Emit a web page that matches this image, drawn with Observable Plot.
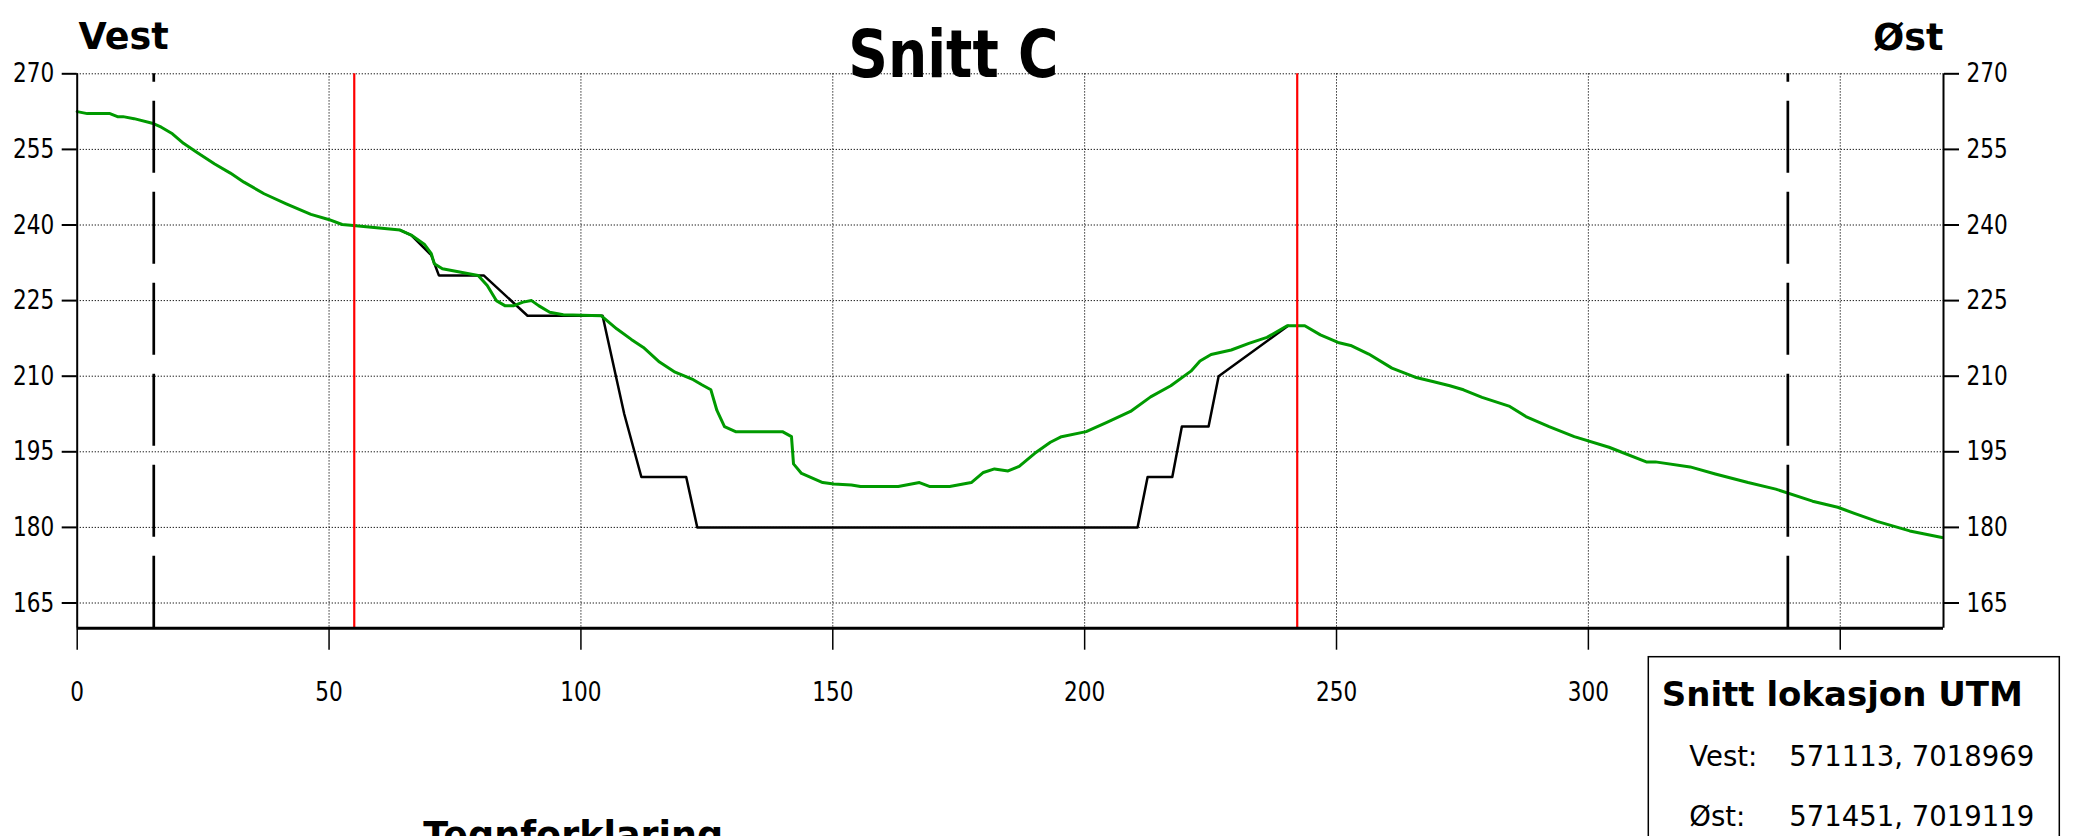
<!DOCTYPE html>
<html><head><meta charset="utf-8">
<script src="https://cdn.jsdelivr.net/npm/d3@7"></script>
<script src="https://cdn.jsdelivr.net/npm/@observablehq/plot@0.6"></script>
<style>
html,body{margin:0;padding:0;background:#fff;}
#chart{width:2075px;height:836px;overflow:hidden;}
</style></head><body><div id="chart"></div>
<script>
// ---- data ----
const terrainX = [0, 2.0, 6.5, 8.0, 9.1, 11.3, 14.9, 16.7, 18.9, 21.1, 23.8, 27.3, 30.4, 33.1, 37.1, 41.5, 46.4, 49.9, 52.6, 54.8,
  64.1, 66.3, 68.9, 70.3, 70.9, 72.5, 79.6, 81.4, 83.2, 84.9, 86.7, 88.5, 90.2, 91.6, 93.8, 96.5, 104.0, 107.1, 110.0, 112.4,
  115.6, 118.7, 122.3, 124.0, 125.8, 127.0, 128.5, 130.7, 140.0, 141.8, 142.2, 143.8, 148.0, 150.2, 153.7, 155.5, 163.0, 167.2,
  169.3, 173.2, 177.5, 179.9, 182.1, 184.8, 187.0, 190.1, 193.2, 195.4, 200.3, 204.3, 209.1, 213.1, 217.1, 221.1, 222.9, 225.1,
  229.1, 232.6, 236.2, 240.2, 243.7, 246.8, 250.3, 252.8, 256.4, 261.0, 265.6, 269.3, 272.5, 275.2, 278.9, 284.4, 287.6, 292.2,
  297.2, 304.1, 311.5, 313.3, 320.2, 325.2, 331.7, 337.2, 344.5, 349.5, 352.8, 357.3, 363.8, 370.2];
const terrainY = [262.5, 262.1, 262.1, 261.5, 261.5, 261.1, 260.2, 259.4, 258.1, 256.2, 254.4, 252.1, 250.3, 248.5, 246.2, 244.2, 242.1, 241.1, 240.1, 239.9,
  239.0, 238.0, 236.2, 234.3, 232.3, 231.3, 230.0, 228.0, 225.0, 224.0, 224.0, 224.7, 225.0, 224.0, 222.7, 222.2, 222.0, 219.4, 217.3, 215.7,
  212.8, 210.8, 209.3, 208.3, 207.3, 203.2, 200.0, 199.0, 199.0, 198.0, 192.6, 190.7, 188.9, 188.6, 188.4, 188.1, 188.1, 188.9,
  188.1, 188.1, 188.9, 190.9, 191.6, 191.2, 192.1, 194.7, 196.9, 198.0, 199.0, 200.8, 203.0, 205.9, 208.1, 211.0, 213.0, 214.3,
  215.2, 216.5, 217.7, 220.0, 220.0, 218.2, 216.7, 216.1, 214.4, 211.6, 209.8, 208.9, 208.1, 207.3, 205.8, 204.0, 202.0, 200.0,
  198.0, 195.9, 193.0, 193.0, 192.0, 190.6, 188.9, 187.6, 185.2, 184.0, 182.8, 181.2, 179.3, 178.0];
const profileX = [64.1, 66.3, 70.3, 71.8, 80.7, 89.4, 104.3, 108.6, 112.0, 120.9, 123.1, 210.5, 212.5, 217.4, 219.3, 224.6, 226.6, 240.4];
const profileY = [239.0, 238.0, 234.0, 230.0, 230.0, 222.0, 222.0, 202.5, 190.0, 190.0, 180.0, 180.0, 190.0, 190.0, 200.0, 200.0, 210.0, 220.0];
const redLinesX = [55.0, 242.2];
const dashedLinesX = [15.2, 339.6];
const xTicks = [0, 50, 100, 150, 200, 250, 300, 350];
const yTicks = [165, 180, 195, 210, 225, 240, 255, 270];
const xDomain = [0, 370.5];
const yDomain = [160, 270];
const titleText = "Snitt C";
const westLabel = "Vest";
const eastLabel = "Øst";
const legendTitle = "Snitt lokasjon UTM";
const legendLabels = ["Vest:", "Øst:"];
const legendValues = ["571113, 7018969", "571451, 7019119"];
const legendHeading = "Tegnforklaring";

const terrain = terrainX.map((x, i) => ({x, y: terrainY[i]}));
const profile = profileX.map((x, i) => ({x, y: profileY[i]}));

const dotted = {stroke: "black", strokeOpacity: 1, strokeWidth: 1, strokeDasharray: "1.2,1.8"};

const chart = Plot.plot({
  width: 2075, height: 836,
  marginLeft: 76.7, marginRight: 132, marginTop: 73.3, marginBottom: 208.3,
  style: {fontFamily: "'DejaVu Sans', sans-serif", fontSize: "27px", color: "black", background: "white"},
  x: {domain: xDomain},
  y: {domain: yDomain},
  marks: [
    Plot.gridX(xTicks.filter(d => d > 0), dotted),
    Plot.gridY(yTicks, dotted),
    Plot.axisY(yTicks, {anchor: "left", tickSize: 15, tickPadding: 8, strokeWidth: 2, fontSize: 27, label: null}),
    Plot.axisY(yTicks, {anchor: "right", tickSize: 15, tickPadding: 8, strokeWidth: 2, fontSize: 27, label: null}),
    Plot.axisX(xTicks, {anchor: "bottom", tickSize: 22, tickPadding: 32, strokeWidth: 1.5, fontSize: 27, label: null}),
    Plot.line(profile, {x: "x", y: "y", stroke: "black", strokeWidth: 2.5}),
    Plot.line(terrain, {x: "x", y: "y", stroke: "#009a00", strokeWidth: 3}),
    Plot.ruleX(dashedLinesX, {y1: yDomain[0], y2: yDomain[1], stroke: "black", strokeWidth: 2.7, strokeDasharray: "72,19"}),
    Plot.ruleX(redLinesX, {stroke: "#ff0000", strokeWidth: 2.2}),
    Plot.ruleX(xDomain, {stroke: "black", strokeWidth: 2}),
    Plot.ruleY([yDomain[0]], {stroke: "black", strokeWidth: 3}),
    Plot.text([titleText], {frameAnchor: "top", dx: -57, dy: 2.7, lineAnchor: "bottom", fontSize: 65, fontWeight: "bold", fill: "black"}),
    Plot.text([westLabel], {frameAnchor: "top-left", textAnchor: "start", dx: 1.3, dy: -25, lineAnchor: "bottom", fontSize: 36.5, fontWeight: "bold", fill: "black"}),
    Plot.text([eastLabel], {frameAnchor: "top-right", textAnchor: "end", dx: 0, dy: -24.3, lineAnchor: "bottom", fontSize: 36.5, fontWeight: "bold", fill: "black"})
  ]
});
document.getElementById("chart").appendChild(chart);

const svg = d3.select(chart);
// condensed tick labels
svg.selectAll('g[aria-label="y-axis tick label"] text, g[aria-label="x-axis tick label"] text').each(function() {
  const w = this.getComputedTextLength();
  this.setAttribute("textLength", w * 0.8);
  this.setAttribute("lengthAdjust", "spacingAndGlyphs");
});
// condensed title
svg.selectAll('g[aria-label="text"] text').filter(function() { return this.textContent === titleText; }).each(function() {
  this.setAttribute("textLength", 210);
  this.setAttribute("lengthAdjust", "spacingAndGlyphs");
});

// location box
const box = svg.append("g").attr("font-family", "'DejaVu Sans', sans-serif").attr("fill", "black").attr("text-anchor", "start");
box.append("rect").attr("x", 1648.3).attr("y", 656.7).attr("width", 411).attr("height", 300)
  .attr("fill", "white").attr("stroke", "black").attr("stroke-width", 1.5);
box.append("text").attr("x", 1661.7).attr("y", 706).attr("font-size", 34).attr("font-weight", "bold").text(legendTitle);
legendLabels.forEach((lab, i) => {
  box.append("text").attr("x", 1689.3).attr("y", 766 + i * 60).attr("font-size", 27.5).text(lab);
  box.append("text").attr("x", 1789.3).attr("y", 766 + i * 60).attr("font-size", 27.5).text(legendValues[i]);
});
svg.append("text").attr("x", 423.3).attr("y", 848).attr("text-anchor", "start").attr("font-family", "'DejaVu Sans', sans-serif")
  .attr("font-size", 36.5).attr("font-weight", "bold").attr("fill", "black").text(legendHeading);
</script>
</body></html>
